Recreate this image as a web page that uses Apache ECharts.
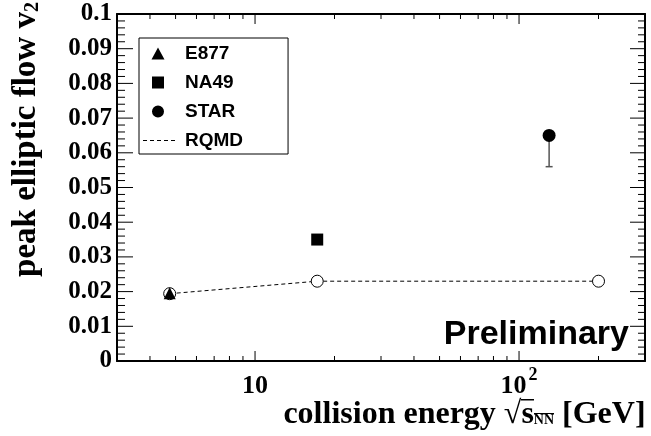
<!DOCTYPE html>
<html>
<head>
<meta charset="utf-8">
<script src="https://cdn.jsdelivr.net/npm/echarts@6/dist/echarts.min.js"></script>
<style>
html,body{margin:0;padding:0;background:#fff;}
#chart{width:651px;height:436px;background:#fff;}
</style>
</head>
<body>
<div id="chart"></div>
<script>
// ---- data ----
const e877 = [[4.75, 0.0195]];
const na49 = [[17.2, 0.035]];
const star = [[130, 0.065]];
const starErrLow = [0.056];
const rqmdEnergy = [4.75, 17.2, 200];
const rqmdV2 = [0.0194, 0.023, 0.023];
// ---- axes / ticks ----
const xMin = 3, xMax = 300, yMin = 0, yMax = 0.1;
const xMajorTicks = [10, 100];
const xTickLabels = ['{b|10}', '{b|10}{sup|2}'];
const xMinorTicks = [4, 5, 6, 7, 8, 9, 20, 30, 40, 50, 60, 70, 80, 90, 200];
const yTickValues = [0, 0.01, 0.02, 0.03, 0.04, 0.05, 0.06, 0.07, 0.08, 0.09, 0.1];
const yTickLabels = ['0', '0.01', '0.02', '0.03', '0.04', '0.05', '0.06', '0.07', '0.08', '0.09', '0.1'];
const yMinorTicks = [0.002, 0.004, 0.006, 0.008, 0.012, 0.014, 0.016, 0.018, 0.022, 0.024, 0.026, 0.028,
  0.032, 0.034, 0.036, 0.038, 0.042, 0.044, 0.046, 0.048, 0.052, 0.054, 0.056, 0.058,
  0.062, 0.064, 0.066, 0.068, 0.072, 0.074, 0.076, 0.078, 0.082, 0.084, 0.086, 0.088,
  0.092, 0.094, 0.096, 0.098];

const serif = 'Liberation Serif';
const sans = 'Liberation Sans';

function xLabel(v) {
  for (let i = 0; i < xMajorTicks.length; i++) {
    if (Math.abs(v - xMajorTicks[i]) / xMajorTicks[i] < 1e-6) return xTickLabels[i];
  }
  return '';
}
function yLabel(v) {
  for (let i = 0; i < yTickValues.length; i++) {
    if (Math.abs(v - yTickValues[i]) < 1e-9) return yTickLabels[i];
  }
  return '';
}

// legend icons, each in a 37x13 box (tiny corner points fix the box)
const box = 'M0,0h0.01v0.01zM37,13h-0.01v-0.01z';
const iconTri = 'path://' + box + 'M15,0.5L21.5,12.5L8.5,12.5Z';
const iconRect = 'path://' + box + 'M9,0.5h12v12h-12Z';
const iconCirc = 'path://' + box + 'M21,6.5A6,6 0 1 1 9,6.5A6,6 0 1 1 21,6.5Z';
const iconDash = 'path://' + box + 'M0,6h4v1h-4zM7,6h4v1h-4zM14,6h4v1h-4zM21,6h4v1h-4zM28,6h4v1h-4z';

// overline image for the square root (top rows black, rest transparent)
const ol = document.createElement('canvas');
ol.width = 2; ol.height = 64;
const olc = ol.getContext('2d');
olc.fillStyle = '#000';
olc.fillRect(0, 0, 2, 3);

const chart = echarts.init(document.getElementById('chart'), null, {renderer: 'canvas'});

function mkAxisLine() { return {show: true, onZero: false, lineStyle: {color: '#000', width: 2}}; }
const TOP = 1; // zlevel for frame & ticks
const xtFont = 32;

// tick drawing through the axis scales (api.coord)
function tickLine(x1, y1, x2, y2) {
  return {type: 'line', shape: {x1: x1, y1: y1, x2: x2, y2: y2}, style: {stroke: '#000', lineWidth: 1}};
}
function yTickSeries(name, values, lenL, lenR) {
  return {
    name: name, type: 'custom', xAxisIndex: 0, yAxisIndex: 0, silent: true, clip: false,
    zlevel: TOP, z: 10,
    data: values.map(v => [xMin, v]),
    renderItem: function (params, api) {
      const l = api.coord([xMin, api.value(1)]);
      const r = api.coord([xMax, api.value(1)]);
      return {type: 'group', children: [
        tickLine(l[0], l[1], l[0] + lenL, l[1]),
        tickLine(r[0], r[1], r[0] - lenR, r[1])
      ]};
    }
  };
}
function xTickSeries(name, values, len) {
  return {
    name: name, type: 'custom', xAxisIndex: 0, yAxisIndex: 0, silent: true, clip: false,
    zlevel: TOP, z: 10,
    data: values.map(v => [v, yMin]),
    renderItem: function (params, api) {
      const b = api.coord([api.value(0), yMin]);
      const t = api.coord([api.value(0), yMax]);
      return {type: 'group', children: [
        tickLine(b[0], b[1], b[0], b[1] - len),
        tickLine(t[0], t[1], t[0], t[1] + len)
      ]};
    }
  };
}

const option = {
  animation: false,
  title: {
    text: 'Preliminary', right: 22, top: 318, padding: 0,
    textStyle: {fontFamily: sans, fontWeight: 'bold', fontSize: 34, color: '#000', lineHeight: 34}
  },
  grid: {left: 117, top: 14, right: 6, bottom: 72},
  xAxis: [{
    type: 'log', logBase: 10, min: xMin, max: xMax, position: 'bottom', zlevel: TOP, z: 5,
    axisLine: mkAxisLine(),
    axisTick: {show: false},
    splitLine: {show: false},
    axisLabel: {
      show: true, margin: 38, verticalAlign: 'bottom', formatter: xLabel,
      color: '#000',
      rich: {
        b: {fontFamily: serif, fontWeight: 'bold', fontSize: 26, color: '#000', verticalAlign: 'bottom'},
        sup: {fontFamily: serif, fontWeight: 'bold', fontSize: 18, color: '#000', verticalAlign: 'bottom', padding: [0, 0, 15, 2]}
      }
    },
    name: '{t|collision energy \u221A}{s|s}{n|NN}{t| [GeV]}',
    nameLocation: 'middle', nameGap: 38, nameMoveOverlap: false,
    nameTextStyle: {
      padding: [0, 0, 0, 167],
      rich: {
        t: {fontFamily: serif, fontWeight: 'bold', fontSize: xtFont, lineHeight: xtFont, color: '#000', verticalAlign: 'bottom'},
        s: {fontFamily: serif, fontWeight: 'bold', fontSize: xtFont, lineHeight: xtFont, color: '#000', verticalAlign: 'bottom', backgroundColor: {image: ol}},
        n: {fontFamily: serif, fontWeight: 'bold', fontSize: 14, lineHeight: xtFont - 4, color: '#000', verticalAlign: 'bottom', padding: [0, 0, 4, 0], backgroundColor: {image: ol}}
      }
    }
  }, {
    type: 'log', logBase: 10, min: xMin, max: xMax, position: 'top', zlevel: TOP, z: 5,
    axisLine: mkAxisLine(),
    axisTick: {show: false},
    splitLine: {show: false},
    axisLabel: {show: false}
  }],
  yAxis: [{
    type: 'value', min: yMin, max: yMax, interval: 0.01, position: 'left', zlevel: TOP, z: 5,
    axisLine: mkAxisLine(),
    axisTick: {show: false},
    minorTick: {show: false},
    splitLine: {show: false},
    axisLabel: {show: true, margin: 5, formatter: yLabel, fontFamily: serif, fontWeight: 'bold', fontSize: 25, color: '#000'},
    name: '{t|peak elliptic flow v}{s|2}',
    nameLocation: 'middle', nameRotate: 90, nameGap: 74, nameMoveOverlap: false,
    nameTextStyle: {
      padding: [0, 0, 0, 96],
      rich: {
        t: {fontFamily: serif, fontWeight: 'bold', fontSize: 33, color: '#000'},
        s: {fontFamily: serif, fontWeight: 'bold', fontSize: 20, color: '#000', padding: [12, 0, 0, 0]}
      }
    }
  }, {
    type: 'value', min: yMin, max: yMax, interval: 0.01, position: 'right', zlevel: TOP, z: 5,
    axisLine: mkAxisLine(),
    axisTick: {show: false},
    minorTick: {show: false},
    splitLine: {show: false},
    axisLabel: {show: false}
  }],
  legend: {
    orient: 'vertical', left: 139, top: 38,
    itemWidth: 37, itemHeight: 13, itemGap: 10,
    padding: [6, 45, 4, 4],
    borderColor: '#000', borderWidth: 1, borderRadius: 0,
    selectedMode: false,
    textStyle: {fontFamily: sans, fontWeight: 'bold', fontSize: 19, color: '#000'},
    data: [
      {name: 'E877', icon: iconTri, itemStyle: {color: '#000', opacity: 1}},
      {name: 'NA49', icon: iconRect, itemStyle: {color: '#000', opacity: 1}},
      {name: 'STAR', icon: iconCirc, itemStyle: {color: '#000', opacity: 1}},
      {name: 'RQMD', icon: iconDash, itemStyle: {color: '#000', opacity: 1, borderWidth: 0}}
    ]
  },
  series: [
    {
      name: 'RQMD', type: 'line', xAxisIndex: 0, yAxisIndex: 0, z: 3,
      data: rqmdEnergy.map((e, i) => [e, rqmdV2[i]]),
      symbol: 'circle', symbolSize: 12, showSymbol: true,
      lineStyle: {color: '#000', width: 1, type: [4, 3]},
      itemStyle: {color: '#fff', borderColor: '#000', borderWidth: 1, opacity: 1}
    },
    {
      name: 'STARerr', type: 'custom', xAxisIndex: 0, yAxisIndex: 0, silent: true, z: 4,
      data: star.map((p, i) => [p[0], p[1], starErrLow[i]]),
      renderItem: function (params, api) {
        const p = api.coord([api.value(0), api.value(1)]);
        const lo = api.coord([api.value(0), api.value(2)]);
        return {type: 'group', children: [
          {type: 'line', shape: {x1: p[0], y1: p[1], x2: lo[0], y2: lo[1]}, style: {stroke: '#555', lineWidth: 1.5}},
          {type: 'line', shape: {x1: lo[0] - 3.5, y1: lo[1], x2: lo[0] + 3.5, y2: lo[1]}, style: {stroke: '#555', lineWidth: 1.5}}
        ]};
      }
    },
    {
      name: 'E877', type: 'scatter', xAxisIndex: 0, yAxisIndex: 0, z: 5,
      data: e877, symbol: 'triangle', symbolSize: 12,
      itemStyle: {color: '#000', opacity: 1}
    },
    {
      name: 'NA49', type: 'scatter', xAxisIndex: 0, yAxisIndex: 0, z: 5,
      data: na49, symbol: 'rect', symbolSize: 12,
      itemStyle: {color: '#000', opacity: 1}
    },
    {
      name: 'STAR', type: 'scatter', xAxisIndex: 0, yAxisIndex: 0, z: 5,
      data: star, symbol: 'circle', symbolSize: 13,
      itemStyle: {color: '#000', opacity: 1}
    },
    yTickSeries('yMajorTicks', yTickValues, 16, 15),
    yTickSeries('yMinorTicks', yMinorTicks, 8, 7),
    xTickSeries('xMajorTicks', xMajorTicks, 10),
    xTickSeries('xMinorTicks', xMinorTicks, 5)
  ]
};
chart.setOption(option);
</script>
</body>
</html>
